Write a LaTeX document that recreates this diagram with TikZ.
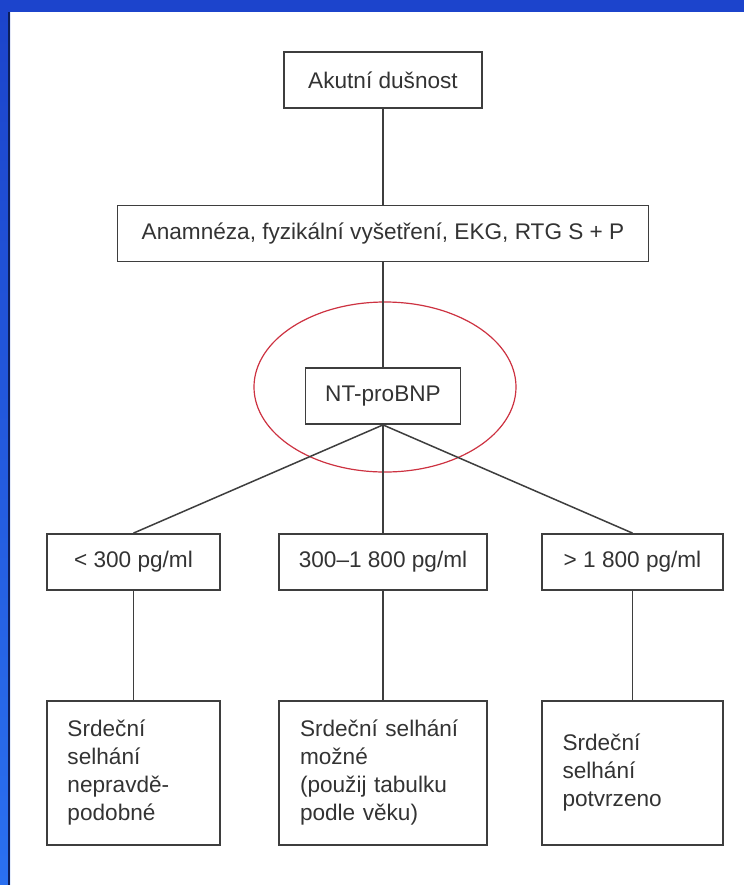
\documentclass[tikz,border=0pt]{standalone}
\usepackage{fontspec}
\setmainfont{Liberation Sans}
\usetikzlibrary{positioning, shapes.geometric}
\definecolor{frameblue}{RGB}{28,68,204}
\definecolor{framelight}{RGB}{42,112,240}
\definecolor{boxgrey}{RGB}{62,62,62}
\definecolor{ringred}{RGB}{205,50,65}

\begin{document}
\begin{tikzpicture}[x=0.5pt, y=-0.5pt,
    every node/.style={font=\fontsize{11.3}{14}\selectfont, text=black!80},
    box/.style={rectangle, draw=boxgrey, line width=0.9pt, fill=white,
                minimum height=28pt, align=center, inner sep=0pt},
    leaf/.style={rectangle, draw=boxgrey, line width=0.9pt, fill=white,
                 minimum height=72pt, align=left, inner sep=0pt},
    ring/.style={ellipse, draw=ringred, line width=0.6pt,
                 minimum width=131pt, minimum height=85pt, inner sep=0pt},
    link/.style={draw=boxgrey, line width=0.75pt},
  ]
    \useasboundingbox (0,0) rectangle (744,885);
    \fill[white] (0,0) rectangle (744,885);
    % blue frame (top and left)
    \fill[frameblue] (0,0) rectangle (744,12);
    \shade[top color=frameblue, bottom color=framelight] (0,12) rectangle (10,885);
    \fill[frameblue!45!black] (7.5,12) rectangle (10,885);
    % main chain
    \node[box, minimum width=99pt] (dusnost) at (383,80) {Akutní dušnost};
    \node[box, minimum width=265.5pt] (anamneza) at (383,233.5)
      {Anamnéza, fyzikální vyšetření, EKG, RTG S + P};
    \node[box, minimum width=77.5pt] (nt) at (383,396) {NT-proBNP};
    \node[ring] (ring) at (385,387) {};
    \draw[link] (dusnost) -- (anamneza);
    \draw[link] (anamneza) -- (nt);
    % three ranges + verdicts
    \foreach \x/\n/\w/\tw/\lab/\res in {%
      133.5/1/86.5pt/66pt/{< 300 pg/ml}/{Srdeční\\selhání\\nepravdě-\\podobné},
      383/2/104pt/83pt/{300–1~800 pg/ml}/{Srdeční selhání\\možné\\(použij tabulku\\podle věku)},
      632.5/3/90.5pt/70pt/{> 1~800 pg/ml}/{Srdeční\\selhání\\potvrzeno}} {
        \node[box, minimum width=\w] (r\n) at (\x,562) {\lab};
        \node[leaf, minimum width=\w, text width=\tw] (v\n) at (\x,773) {\res};
        \draw[link] (nt.south) -- (r\n.north);
        \draw[link] (r\n) -- (v\n);
      }
  \end{tikzpicture}
\end{document}
